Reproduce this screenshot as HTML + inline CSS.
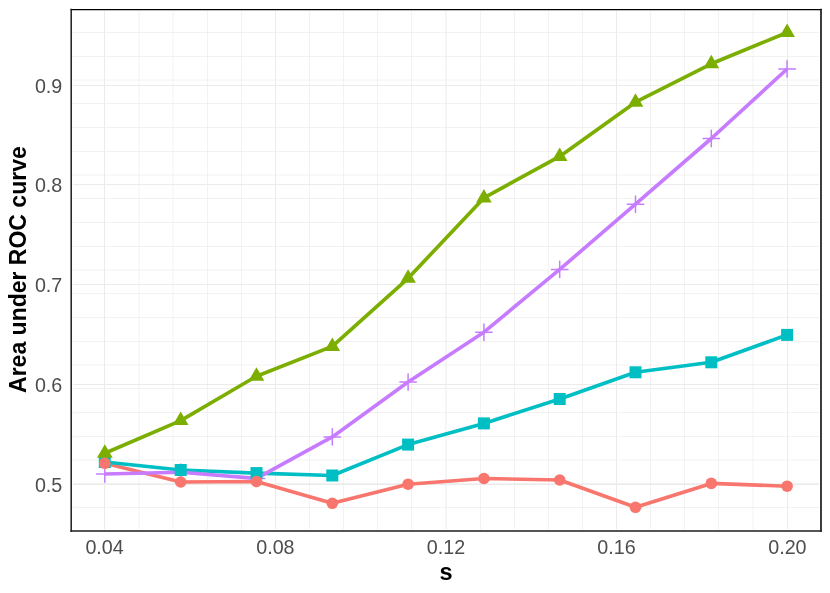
<!DOCTYPE html><html><head><meta charset="utf-8"><style>html,body{margin:0;padding:0;background:#fff}svg{display:block}text{font-family:"Liberation Sans",sans-serif}</style></head><body>
<svg width="830" height="593" viewBox="0 0 830 593">
<rect width="830" height="593" fill="#fff"/>
<defs><filter id="g" filterUnits="userSpaceOnUse" x="0" y="0" width="830" height="593"><feOffset dx="0" dy="0"/></filter></defs>
<g stroke="#e7e7e7" stroke-width="0.55" fill="none">
<line x1="72.9" x2="819.1" y1="32.50" y2="32.50"/>
<line x1="72.9" x2="819.1" y1="56.50" y2="56.50"/>
<line x1="72.9" x2="819.1" y1="80.00" y2="80.00"/>
<line x1="72.9" x2="819.1" y1="103.50" y2="103.50"/>
<line x1="72.9" x2="819.1" y1="127.50" y2="127.50"/>
<line x1="72.9" x2="819.1" y1="151.50" y2="151.50"/>
<line x1="72.9" x2="819.1" y1="175.00" y2="175.00"/>
<line x1="72.9" x2="819.1" y1="198.50" y2="198.50"/>
<line x1="72.9" x2="819.1" y1="222.50" y2="222.50"/>
<line x1="72.9" x2="819.1" y1="246.50" y2="246.50"/>
<line x1="72.9" x2="819.1" y1="270.00" y2="270.00"/>
<line x1="72.9" x2="819.1" y1="293.50" y2="293.50"/>
<line x1="72.9" x2="819.1" y1="317.50" y2="317.50"/>
<line x1="72.9" x2="819.1" y1="341.50" y2="341.50"/>
<line x1="72.9" x2="819.1" y1="365.00" y2="365.00"/>
<line x1="72.9" x2="819.1" y1="388.50" y2="388.50"/>
<line x1="72.9" x2="819.1" y1="412.50" y2="412.50"/>
<line x1="72.9" x2="819.1" y1="436.50" y2="436.50"/>
<line x1="72.9" x2="819.1" y1="460.00" y2="460.00"/>
<line x1="72.9" x2="819.1" y1="483.50" y2="483.50"/>
<line x1="72.9" x2="819.1" y1="507.50" y2="507.50"/>
<line x1="139.00" x2="139.00" y1="11.0" y2="529.3"/>
<line x1="173.00" x2="173.00" y1="11.0" y2="529.3"/>
<line x1="207.50" x2="207.50" y1="11.0" y2="529.3"/>
<line x1="241.50" x2="241.50" y1="11.0" y2="529.3"/>
<line x1="309.50" x2="309.50" y1="11.0" y2="529.3"/>
<line x1="343.50" x2="343.50" y1="11.0" y2="529.3"/>
<line x1="377.50" x2="377.50" y1="11.0" y2="529.3"/>
<line x1="411.50" x2="411.50" y1="11.0" y2="529.3"/>
<line x1="480.50" x2="480.50" y1="11.0" y2="529.3"/>
<line x1="514.50" x2="514.50" y1="11.0" y2="529.3"/>
<line x1="548.50" x2="548.50" y1="11.0" y2="529.3"/>
<line x1="582.50" x2="582.50" y1="11.0" y2="529.3"/>
<line x1="650.50" x2="650.50" y1="11.0" y2="529.3"/>
<line x1="684.50" x2="684.50" y1="11.0" y2="529.3"/>
<line x1="718.50" x2="718.50" y1="11.0" y2="529.3"/>
<line x1="753.00" x2="753.00" y1="11.0" y2="529.3"/>
</g>
<g stroke="#ebebeb" stroke-width="1" fill="none">
<line x1="72.9" x2="819.1" y1="484.50" y2="484.50"/>
<line x1="72.9" x2="819.1" y1="384.50" y2="384.50"/>
<line x1="72.9" x2="819.1" y1="284.50" y2="284.50"/>
<line x1="72.9" x2="819.1" y1="184.50" y2="184.50"/>
<line x1="72.9" x2="819.1" y1="85.50" y2="85.50"/>
<line x1="104.50" x2="104.50" y1="11.0" y2="529.3"/>
<line x1="275.50" x2="275.50" y1="11.0" y2="529.3"/>
<line x1="446.00" x2="446.00" y1="11.0" y2="529.3"/>
<line x1="616.50" x2="616.50" y1="11.0" y2="529.3"/>
<line x1="787.50" x2="787.50" y1="11.0" y2="529.3"/>
</g>
<polyline points="104.8,463.3 180.7,482.0 256.5,481.5 332.3,503.3 408.1,484.2 483.9,478.5 559.7,480.0 635.5,507.3 711.3,483.4 787.1,486.2" fill="none" stroke="#F8766D" stroke-width="3.65" stroke-linejoin="round" stroke-linecap="butt"/>
<polyline points="104.8,453.3 180.7,420.6 256.5,376.2 332.3,346.4 408.1,278.3 483.9,197.9 559.7,156.4 635.5,102.2 711.3,63.8 787.1,32.5" fill="none" stroke="#7CAE00" stroke-width="3.65" stroke-linejoin="round" stroke-linecap="butt"/>
<polyline points="104.8,462.0 180.7,470.0 256.5,473.1 332.3,475.5 408.1,444.6 483.9,423.4 559.7,399.0 635.5,372.3 711.3,362.3 787.1,334.9" fill="none" stroke="#00BFC4" stroke-width="3.65" stroke-linejoin="round" stroke-linecap="butt"/>
<polyline points="104.8,474.0 180.7,472.2 256.5,478.4 332.3,436.9 408.1,382.1 483.9,332.2 559.7,269.4 635.5,204.2 711.3,138.5 787.1,69.0" fill="none" stroke="#C77CFF" stroke-width="3.65" stroke-linejoin="round" stroke-linecap="butt"/>
<g stroke="#C77CFF" stroke-width="1.5" stroke-linecap="round" fill="none">
<path d="M96.6 474.0H113.0M104.8 465.8V482.2"/>
<path d="M172.5 472.2H188.9M180.7 464.0V480.4"/>
<path d="M248.3 478.4H264.7M256.5 470.2V486.6"/>
<path d="M324.1 436.9H340.5M332.3 428.7V445.1"/>
<path d="M399.9 382.1H416.3M408.1 373.9V390.3"/>
<path d="M475.7 332.2H492.1M483.9 324.0V340.4"/>
<path d="M551.5 269.4H567.9M559.7 261.2V277.6"/>
<path d="M627.3 204.2H643.7M635.5 196.0V212.4"/>
<path d="M703.1 138.5H719.5M711.3 130.3V146.7"/>
<path d="M778.9 69.0H795.4M787.1 60.8V77.2"/>
</g>
<g fill="#00BFC4">
<rect x="98.8" y="456.0" width="12.0" height="12.0"/>
<rect x="174.7" y="464.0" width="12.0" height="12.0"/>
<rect x="250.5" y="467.1" width="12.0" height="12.0"/>
<rect x="326.3" y="469.5" width="12.0" height="12.0"/>
<rect x="402.1" y="438.6" width="12.0" height="12.0"/>
<rect x="477.9" y="417.4" width="12.0" height="12.0"/>
<rect x="553.7" y="393.0" width="12.0" height="12.0"/>
<rect x="629.5" y="366.3" width="12.0" height="12.0"/>
<rect x="705.3" y="356.3" width="12.0" height="12.0"/>
<rect x="781.1" y="328.9" width="12.0" height="12.0"/>
</g>
<g fill="#7CAE00">
<path d="M104.8 444.3L112.7 457.8L97.0 457.8Z"/>
<path d="M180.7 411.6L188.5 425.1L172.8 425.1Z"/>
<path d="M256.5 367.2L264.3 380.7L248.7 380.7Z"/>
<path d="M332.3 337.4L340.1 350.9L324.5 350.9Z"/>
<path d="M408.1 269.3L415.9 282.8L400.3 282.8Z"/>
<path d="M483.9 188.9L491.7 202.4L476.1 202.4Z"/>
<path d="M559.7 147.4L567.5 160.9L551.9 160.9Z"/>
<path d="M635.5 93.2L643.3 106.7L627.7 106.7Z"/>
<path d="M711.3 54.8L719.2 68.3L703.5 68.3Z"/>
<path d="M787.1 23.5L795.0 37.0L779.3 37.0Z"/>
</g>
<g fill="#F8766D">
<circle cx="104.8" cy="463.3" r="5.8"/>
<circle cx="180.7" cy="482.0" r="5.8"/>
<circle cx="256.5" cy="481.5" r="5.8"/>
<circle cx="332.3" cy="503.3" r="5.8"/>
<circle cx="408.1" cy="484.2" r="5.8"/>
<circle cx="483.9" cy="478.5" r="5.8"/>
<circle cx="559.7" cy="480.0" r="5.8"/>
<circle cx="635.5" cy="507.3" r="5.8"/>
<circle cx="711.3" cy="483.4" r="5.8"/>
<circle cx="787.1" cy="486.2" r="5.8"/>
</g>
<g stroke="#1c1c1c" fill="none" stroke-linecap="square"><line x1="71.2" x2="821" y1="9.5" y2="9.5" stroke-width="1.25" stroke="#000"/><line x1="71.2" x2="821" y1="531" y2="531" stroke-width="1.7"/><line x1="71.2" x2="71.2" y1="9.5" y2="531" stroke-width="1.5"/><line x1="821" x2="821" y1="9.5" y2="531" stroke-width="1.7"/></g>
<g filter="url(#g)">
<g fill="#4D4D4D" font-size="19.7px">
<text x="62.3" y="492.0" text-anchor="end">0.5</text>
<text x="62.3" y="392.1" text-anchor="end">0.6</text>
<text x="62.3" y="292.1" text-anchor="end">0.7</text>
<text x="62.3" y="192.2" text-anchor="end">0.8</text>
<text x="62.3" y="93.1" text-anchor="end">0.9</text>
<text x="104.6" y="553.7" text-anchor="middle">0.04</text>
<text x="275.4" y="553.7" text-anchor="middle">0.08</text>
<text x="446.0" y="553.7" text-anchor="middle">0.12</text>
<text x="616.5" y="553.7" text-anchor="middle">0.16</text>
<text x="787.4" y="553.7" text-anchor="middle">0.20</text>
</g>
<text x="446.0" y="579.5" text-anchor="middle" font-size="23.5px" font-weight="bold" fill="#000">s</text>
<text transform="translate(26.3,269.6) rotate(-90)" text-anchor="middle" font-size="23px" font-weight="bold" fill="#000">Area under ROC curve</text>
</g>
</svg></body></html>
